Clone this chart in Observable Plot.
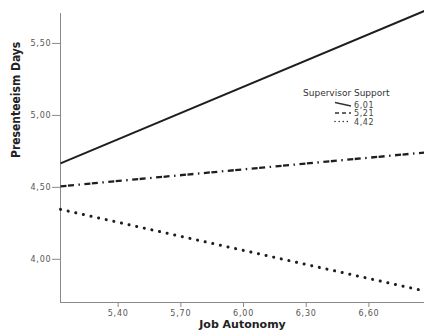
<!DOCTYPE html>
<html>
<head>
<meta charset="utf-8">
<script src="https://cdn.jsdelivr.net/npm/d3@7"></script>
<script src="https://cdn.jsdelivr.net/npm/@observablehq/plot@0.6"></script>
<style>
  html, body { margin: 0; padding: 0; background: #fff; }
  #chart { position: relative; width: 424px; height: 333px; overflow: hidden; }
  #legend { position: absolute; left: 0; top: 0; pointer-events: none; }
</style>
</head>
<body>
<div id="chart"></div>
<script>
// ---- data ----
const jobAutonomy = [5.124, 6.866];           // x extent of the simple slopes
const supportLevels = ["6,01", "5,21", "4,42"]; // Supervisor Support levels
const highSupport = [4.667, 5.726];
const midSupport  = [4.507, 4.742];
const lowSupport  = [4.347, 3.780];
const xTicks = [5.40, 5.70, 6.00, 6.30, 6.60];
const yTicks = [4.00, 4.50, 5.00, 5.50];
const dashes = ["none", "6,1.5,6,4.5,1.5,4.5", "0.1,7.7"];

const seriesValues = [highSupport, midSupport, lowSupport];
const rows = [];
supportLevels.forEach((lvl, i) => {
  jobAutonomy.forEach((x, j) => rows.push({level: lvl, x, y: seriesValues[i][j]}));
});

const fmt = d => d.toFixed(2).replace(".", ",");
const tickFont = "DejaVu Sans, sans-serif";

const plot = Plot.plot({
  width: 424,
  height: 333,
  marginLeft: 60,
  marginRight: 0,
  marginTop: 13,
  marginBottom: 31,
  style: {background: "#fff", fontFamily: tickFont, fontSize: "8px", color: "#555", overflow: "visible"},
  x: {domain: [5.124, 6.866]},
  y: {domain: [3.70, 5.708]},
  marks: [
    Plot.axisX({ticks: xTicks, tickFormat: fmt, tickSize: 5, tickPadding: 3, stroke: "#8a8a8a", label: null}),
    Plot.axisY({ticks: yTicks, tickFormat: fmt, tickSize: 8, tickPadding: 1, stroke: "#8a8a8a", label: null}),
    Plot.ruleY([3.70], {stroke: "#8a8a8a", strokeWidth: 1}),
    Plot.ruleX([5.124], {stroke: "#8a8a8a", strokeWidth: 1}),
    ...supportLevels.map((lvl, i) => Plot.line(rows.filter(r => r.level === lvl), {
      x: "x", y: "y", stroke: "#1e1e1e",
      strokeWidth: [2, 2.3, 3][i],
      strokeLinecap: i === 2 ? "round" : "butt",
      strokeDasharray: dashes[i], clip: false
    })),
    Plot.text(["Presenteeism Days"], {
      frameAnchor: "left", rotate: -90, dx: -44, fontSize: 12, fill: "#222",
      fontFamily: "DejaVu Sans Condensed, DejaVu Sans, sans-serif", fontWeight: 600
    }),
    Plot.text(["Job Autonomy"], {
      frameAnchor: "bottom", dy: 25, fontSize: 11, fontWeight: "bold", fill: "#222",
      fontFamily: "DejaVu Sans, sans-serif"
    })
  ]
});
plot.querySelectorAll("g[aria-label='x-axis tick label'] text, g[aria-label='y-axis tick label'] text")
  .forEach(t => t.setAttribute("letter-spacing", "0.8"));
document.getElementById("chart").appendChild(plot);

// ---- legend ----
const leg = d3.select("#chart").append("svg").attr("id", "legend")
  .attr("width", 424).attr("height", 333);
leg.append("text").attr("x", 303).attr("y", 96)
  .attr("font-family", "DejaVu Sans, sans-serif").attr("font-size", 9).attr("fill", "#333")
  .text("Supervisor Support");
supportLevels.forEach((lvl, i) => {
  const y = 104.5 + i * 8.5;
  leg.append("line")
    .attr("x1", 335).attr("x2", 351)
    .attr("y1", i === 0 ? y - 2 : y).attr("y2", i === 0 ? y + 1.5 : y)
    .attr("stroke", "#333").attr("stroke-width", i === 0 ? 1.3 : 1.5)
    .attr("stroke-linecap", i === 2 ? "round" : "butt")
    .attr("stroke-dasharray", i === 0 ? null : (i === 1 ? "4,3" : "0.1,4"));
  leg.append("text").attr("x", 354).attr("y", y + 3)
    .attr("font-family", "DejaVu Sans, sans-serif").attr("font-size", 8).attr("fill", "#444")
    .attr("letter-spacing", "0.6")
    .text(lvl);
});
</script>
</body>
</html>
